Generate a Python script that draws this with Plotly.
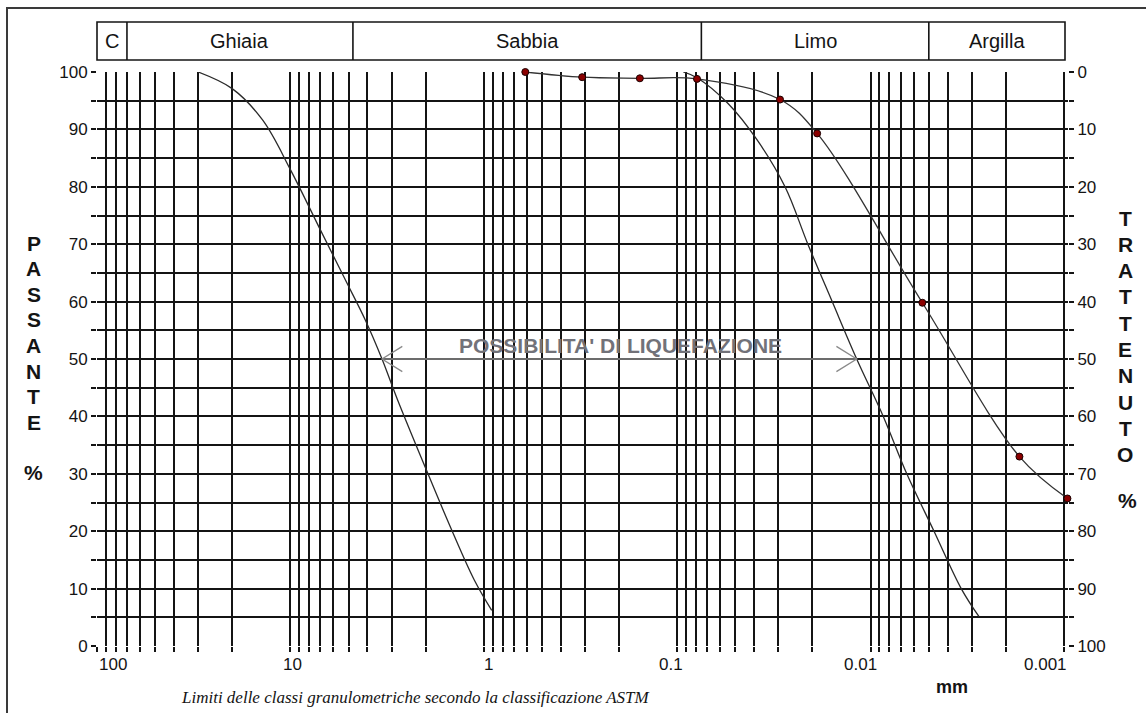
import math
import plotly.graph_objects as go

# Sample grading curve: grain diameter (mm) and percent passing
diam_mm = [0.61, 0.31, 0.156, 0.079, 0.0294, 0.0189, 0.0054, 0.0017, 0.00096]
passing_pct = [100, 99.1, 98.9, 98.8, 95.2, 89.3, 59.8, 33.0, 25.7]

# Limits of the liquefaction-susceptible band
coarse_limit_mm = [30, 20, 13.9, 10, 7.0, 5.2, 4.1, 3.36, 2.8, 2.0, 1.5, 1.12, 0.91]
coarse_limit_pct = [100, 97.1, 91.6, 83, 72.5, 63.8, 56.8, 50, 43, 31, 21, 11.5, 6.2]
fine_limit_mm = [0.093, 0.079, 0.0546, 0.0387, 0.0277, 0.0211, 0.0158, 0.0118,
                 0.0086, 0.0065, 0.0047, 0.0034, 0.00275]
fine_limit_pct = [100, 99, 94.5, 88.2, 80, 70, 60, 50, 40, 30, 20, 10, 5.1]

# Double arrow spanning the band at 50 % passing
liq_arrow_mm = [3.36, 0.0118]
liq_arrow_pct = 50
liq_label = "POSSIBILITA' DI LIQUEFAZIONE"

# ASTM grain-size classes
class_names = ["C", "Ghiaia", "Sabbia", "Limo", "Argilla"]
class_limits_mm = [100, 70, 4.75, 0.075, 0.005, 0.001]

# Axis labels
x_label_vals = [100, 10, 1, 0.1, 0.01, 0.001]
x_label_text = ["100", "10", "1", "0.1", "0.01", "0.001"]
y_label_vals = [0, 10, 20, 30, 40, 50, 60, 70, 80, 90, 100]
left_title = "PASSANTE"
right_title = "TRATTENUTO"

# ---------------------------------------------------------------------------
FIG_W, FIG_H = 1146, 713
DEC_PX = 193.4                     # pixels per decade
LOG_MAX, LOG_MIN = 2, -3           # labelled span of the grain-size axis
LOG_END = LOG_MIN - 4 / DEC_PX     # small overhang past the last grid line
M_L, M_T, M_B = 97, 72, 67
M_R = FIG_W - M_L - round((LOG_MAX - LOG_END) * DEC_PX)
PW, PH = FIG_W - M_L - M_R, FIG_H - M_T - M_B

INK = "#141414"
SANS = "Liberation Sans, Arial, sans-serif"
GRID_W = 1.8


def px_x(px):
    return (px - M_L) / PW


def px_y(py):
    return (FIG_H - M_B - py) / PH


def d_to_paper(d):
    return (LOG_MAX - math.log10(d)) / (LOG_MAX - LOG_END)


# log grid: 1..9 x each decade
grid_x = []
for e in range(LOG_MIN, LOG_MAX):
    for k in range(1, 10):
        grid_x.append(round(k * 10 ** e, 6))
grid_x.append(100)

grid_y = list(range(0, 101, 5))
left_text = [str(v) if v in y_label_vals else "" for v in grid_y]
right_text = [str(v) if v in y_label_vals else "" for v in grid_y]

fig = go.Figure()

# band limits
for xs, ys in ((coarse_limit_mm, coarse_limit_pct), (fine_limit_mm, fine_limit_pct)):
    fig.add_trace(go.Scatter(
        x=xs, y=ys, mode="lines",
        line=dict(color="#2a2a2a", width=1.3, shape="spline", smoothing=1.0),
        hoverinfo="skip", showlegend=False))

# liquefaction arrow (shaft + open heads)
arrow_grey = "#8a8a8a"
fig.add_trace(go.Scatter(
    x=liq_arrow_mm, y=[liq_arrow_pct, liq_arrow_pct], mode="lines",
    line=dict(color=arrow_grey, width=1.3), hoverinfo="skip", showlegend=False))
head_dec, head_pct = 0.105, 2.2
for d, sgn in ((liq_arrow_mm[0], -1), (liq_arrow_mm[1], 1)):
    back = d * 10 ** (sgn * head_dec)
    fig.add_trace(go.Scatter(
        x=[back, d, back],
        y=[liq_arrow_pct + head_pct, liq_arrow_pct, liq_arrow_pct - head_pct],
        mode="lines", line=dict(color=arrow_grey, width=1.3),
        hoverinfo="skip", showlegend=False))

# sample curve
fig.add_trace(go.Scatter(
    x=diam_mm, y=passing_pct, mode="lines+markers", cliponaxis=False,
    line=dict(color="#333333", width=1.3, shape="spline", smoothing=1.0),
    marker=dict(size=7, color="#8b0000", line=dict(color="#1a0000", width=1)),
    hoverinfo="skip", showlegend=False))

# retained % on the right axis (same points, invisible)
fig.add_trace(go.Scatter(
    x=diam_mm, y=[100 - p for p in passing_pct], yaxis="y2", mode="markers",
    marker=dict(size=1, opacity=0), hoverinfo="skip", showlegend=False))

tick_font = dict(family=SANS, size=17, color=INK)

fig.update_layout(
    width=FIG_W, height=FIG_H,
    margin=dict(l=M_L, r=M_R, t=M_T, b=M_B, pad=0, autoexpand=False),
    paper_bgcolor="white", plot_bgcolor="white",
    showlegend=False,
    xaxis=dict(
        type="log", range=[LOG_MAX, LOG_END],
        tickmode="array", tickvals=grid_x, ticktext=[""] * len(grid_x),
        showgrid=True, gridcolor=INK, gridwidth=GRID_W,
        ticks="outside", ticklen=5, tickwidth=GRID_W, tickcolor=INK,
        showline=False, zeroline=False, fixedrange=True,
    ),
    yaxis=dict(
        range=[0, 100], tickmode="array", tickvals=grid_y, ticktext=left_text,
        showgrid=True, gridcolor=INK, gridwidth=GRID_W,
        ticks="outside", ticklen=5, tickwidth=GRID_W, tickcolor=INK,
        showline=False, zeroline=False, tickfont=tick_font, fixedrange=True,
    ),
    yaxis2=dict(
        overlaying="y", side="right", range=[100, 0],
        tickmode="array", tickvals=grid_y, ticktext=right_text,
        showgrid=False, zeroline=False, showline=False,
        ticks="outside", ticklen=5, tickwidth=GRID_W, tickcolor=INK,
        tickfont=tick_font, fixedrange=True,
    ),
)

shapes = []
annotations = []

# outer frame
shapes.append(dict(type="rect", xref="paper", yref="paper",
                   x0=px_x(7), x1=px_x(FIG_W + 10), y0=px_y(FIG_H + 10), y1=px_y(8),
                   line=dict(color="#3a3a3a", width=2), layer="below"))

# grain-size labels, kept inside the axis span at both ends
label_shift = [16, 2, 5, -6, -10, -19]
for v, t, sh in zip(x_label_vals, x_label_text, label_shift):
    annotations.append(dict(text=t, xref="paper", yref="paper",
                            x=d_to_paper(v), y=px_y(664), xshift=sh,
                            showarrow=False, xanchor="center", yanchor="middle",
                            font=tick_font))

# class header band
hy0, hy1 = px_y(60), px_y(22)
head_right = d_to_paper(class_limits_mm[-1]) + 1 / PW
shapes.append(dict(type="rect", xref="paper", yref="paper",
                   x0=d_to_paper(class_limits_mm[0]), x1=head_right,
                   y0=hy0, y1=hy1, line=dict(color=INK, width=1.6)))
for lim in class_limits_mm[1:-1]:
    xp = d_to_paper(lim)
    shapes.append(dict(type="line", xref="paper", yref="paper",
                       x0=xp, x1=xp, y0=hy0, y1=hy1, line=dict(color=INK, width=1.6)))
for i, name in enumerate(class_names):
    xa = d_to_paper(class_limits_mm[i])
    xb = d_to_paper(class_limits_mm[i + 1]) if i + 2 < len(class_limits_mm) else head_right
    annotations.append(dict(text=name, xref="paper", yref="paper",
                            x=(xa + xb) / 2, y=(hy0 + hy1) / 2,
                            showarrow=False, xanchor="center", yanchor="middle",
                            font=dict(family=SANS, size=20, color=INK)))

# band label
annotations.append(dict(text="<b>" + liq_label + "</b>", xref="paper", yref="paper",
                        x=px_x(620), y=px_y(345), showarrow=False,
                        xanchor="center", yanchor="middle",
                        font=dict(family=SANS, size=21, color="#727279")))

# vertical axis titles, one letter per row
bold = dict(family=SANS, size=21, color=INK)


def stacked(word, cx, top, step, pct_y, pct_x):
    for j, ch in enumerate(word):
        annotations.append(dict(text="<b>" + ch + "</b>", xref="paper", yref="paper",
                                x=px_x(cx), y=px_y(top + j * step), showarrow=False,
                                xanchor="center", yanchor="middle", font=bold))
    annotations.append(dict(text="<b>%</b>", xref="paper", yref="paper",
                            x=px_x(pct_x), y=px_y(pct_y), showarrow=False,
                            xanchor="center", yanchor="middle", font=bold))


stacked(left_title, 34, 243, 25.6, 473, 34)
stacked(right_title, 1125, 218, 26.3, 500, 1127)

# unit and caption
annotations.append(dict(text="<b>mm</b>", xref="paper", yref="paper",
                        x=px_x(952), y=px_y(687), showarrow=False,
                        xanchor="center", yanchor="middle",
                        font=dict(family=SANS, size=18, color=INK)))
annotations.append(dict(text="<i>Limiti delle classi granulometriche secondo la classificazione ASTM</i>",
                        xref="paper", yref="paper", x=px_x(415), y=px_y(697),
                        showarrow=False, xanchor="center", yanchor="middle",
                        font=dict(family="Liberation Serif, Times New Roman, serif",
                                  size=17, color=INK)))

fig.update_layout(shapes=shapes, annotations=annotations)

fig.write_html("out.html")
